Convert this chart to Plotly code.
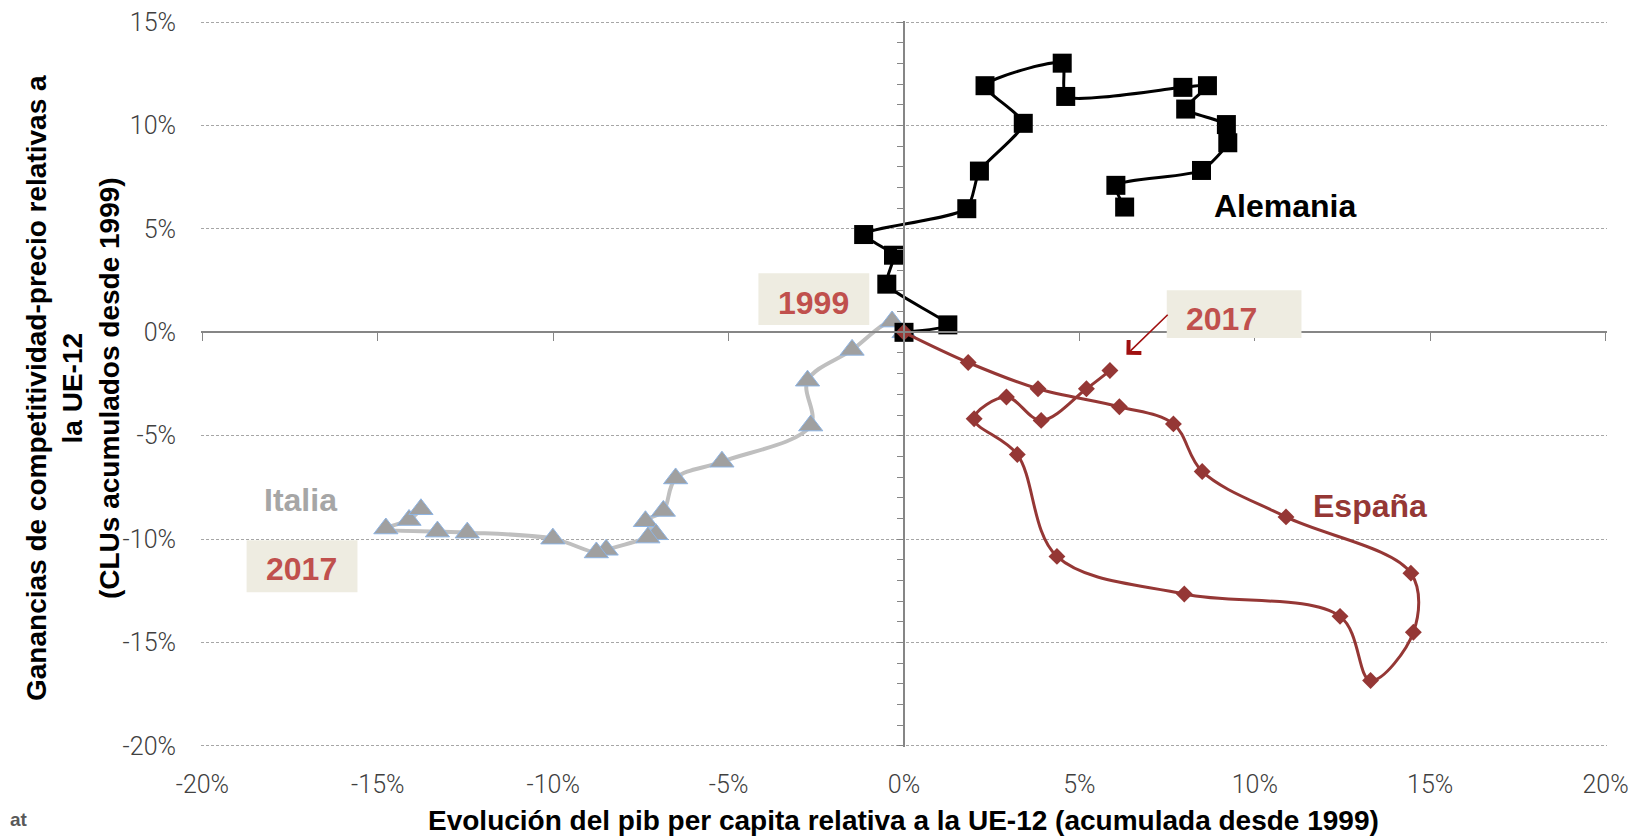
import plotly.graph_objects as go

# valores (en %), 1999 -> 2017
ale_x = [0.0, 1.25, -0.49, -0.30, -1.15, 1.79, 2.15, 3.40, 2.31, 4.51,
         4.61, 7.95, 8.65, 8.03, 9.19, 9.23, 8.48, 6.04, 6.29]
ale_y = [0.0, 0.36, 2.33, 3.73, 4.73, 5.98, 7.80, 10.11, 11.93, 13.02,
         11.41, 11.85, 11.93, 10.80, 10.05, 9.17, 7.83, 7.11, 6.06]

esp_x = [0.0, 1.83, 3.82, 6.14, 7.68, 8.50, 10.89, 14.45, 14.52, 13.30,
         12.43, 7.99, 4.36, 3.23, 2.00, 2.92, 3.91, 5.20, 5.87]
esp_y = [0.0, -1.46, -2.73, -3.60, -4.43, -6.73, -8.93, -11.65, -14.51, -16.84,
         -13.74, -12.66, -10.84, -5.91, -4.18, -3.13, -4.26, -2.73, -1.85]

ita_x = [0.0, -0.34, -1.48, -2.75, -2.66, -5.19, -6.51, -6.86, -7.37, -7.07,
         -7.30, -8.49, -8.77, -10.01, -12.45, -13.30, -14.77, -14.11, -13.77]
ita_y = [0.0, 0.52, -0.85, -2.34, -4.51, -6.26, -7.07, -8.64, -9.14, -9.77,
         -9.93, -10.52, -10.65, -9.98, -9.69, -9.64, -9.49, -9.08, -8.56]

x_ticks = [-20, -15, -10, -5, 0, 5, 10, 15, 20]
x_labels = ['-20%', '-15%', '-10%', '-5%', '0%', '5%', '10%', '15%', '20%']
y_ticks = [-20, -15, -10, -5, 0, 5, 10, 15]
y_labels = ['-20%', '-15%', '-10%', '-5%', '0%', '5%', '10%', '15%']

# rangos un pelín abiertos para que plotly dibuje la rejilla de los extremos
X_RANGE = [-20.04, 20.04]
Y_RANGE = [-20.06, 15.06]

ROJO = '#953735'
ROJO_TXT = '#c0504d'
BEIGE = '#eeece1'
GRIS_EJE = '#868686'
FUENTE = 'Liberation Sans, Arial, sans-serif'

fig = go.Figure()

fig.add_trace(go.Scatter(
    x=ita_x, y=ita_y, mode='lines+markers', name='Italia',
    line=dict(color='#bfbfbf', width=4, shape='spline'),
    marker=dict(symbol='triangle-up', size=21, color='#a0a0a0',
                line=dict(color='#8eb4e3', width=1)),
))
fig.add_trace(go.Scatter(
    x=ale_x, y=ale_y, mode='lines+markers', name='Alemania',
    xaxis='x2', yaxis='y2',
    line=dict(color='black', width=3, shape='spline', smoothing=0.6),
    marker=dict(symbol='square', size=19, color='black'),
))
fig.add_trace(go.Scatter(
    x=esp_x, y=esp_y, mode='lines+markers', name='España',
    xaxis='x2', yaxis='y2',
    line=dict(color=ROJO, width=3, shape='spline'),
    marker=dict(symbol='diamond', size=13, color=ROJO),
))

tick_font = dict(family='Roboto, sans-serif', size=25, color='#404040', weight=300)

# la página añade 8px de margen, se compensa aquí
fig.update_layout(
    width=1642, height=839,
    margin=dict(l=193, r=43, t=13, b=100),
    paper_bgcolor='white', plot_bgcolor='white',
    showlegend=False,
    xaxis=dict(range=X_RANGE, tickvals=x_ticks, ticktext=x_labels,
               showgrid=False, zeroline=False, showline=False, ticks='',
               tickfont=tick_font, ticklabelstandoff=20, automargin=False,
               ticklabeloverflow='allow'),
    yaxis=dict(range=Y_RANGE, tickvals=y_ticks, ticktext=y_labels,
               showgrid=True, gridcolor='#a6a6a6', gridwidth=1, griddash='3px,2px',
               zeroline=False, showline=False, ticks='',
               tickfont=tick_font, ticklabelstandoff=24, automargin=False,
               ticklabeloverflow='allow'),
    xaxis2=dict(overlaying='x', anchor='free', position=20.06 / 35.12, range=X_RANGE,
                showline=True, linecolor=GRIS_EJE, linewidth=1.5,
                ticks='outside', ticklen=8, tickcolor=GRIS_EJE, tickwidth=1.2,
                tickvals=x_ticks, showticklabels=False, showgrid=False,
                zeroline=False, automargin=False),
    yaxis2=dict(overlaying='y', anchor='free', position=0.5, range=Y_RANGE,
                showline=True, linecolor=GRIS_EJE, linewidth=1.5,
                ticks='outside', ticklen=6, tickcolor=GRIS_EJE, tickwidth=1.2,
                tick0=0, dtick=1, showticklabels=False, showgrid=False,
                zeroline=False, automargin=False),
)

# cajas de los años
for x0, x1, y0, y1 in [(-4.15, -0.99, 0.36, 2.86), (7.49, 11.33, -0.27, 2.03),
                       (-18.74, -15.58, -12.57, -10.06)]:
    fig.add_shape(type='rect', xref='x', yref='y', x0=x0, x1=x1, y0=y0, y1=y1,
                  fillcolor=BEIGE, line=dict(width=0), layer='above')

etiquetas = [
    ('Alemania', 10.86, 6.10, 'black'),
    ('España', 13.29, -8.38, ROJO),
    ('Italia', -17.19, -8.13, '#a6a6a6'),
    ('1999', -2.57, 1.44, ROJO_TXT),
    ('2017', 9.06, 0.65, ROJO_TXT),
    ('2017', -17.18, -11.45, ROJO_TXT),
]
for txt, x, y, col in etiquetas:
    fig.add_annotation(x=x, y=y, xref='x', yref='y', text='<b>%s</b>' % txt,
                       showarrow=False, xanchor='center', yanchor='middle',
                       font=dict(family=FUENTE, size=32, color=col))

# flecha 2017 España
fig.add_annotation(x=6.34, y=-1.09, ax=7.56, ay=0.92, xref='x', yref='y',
                   axref='x', ayref='y', text='', showarrow=True,
                   arrowhead=4, arrowsize=2.2, arrowwidth=1.6, arrowcolor='#a01010')

# títulos de ejes
fig.add_annotation(xref='paper', yref='paper', x=(65 - 193) / 1406, y=0.4945,
                   xanchor='center', yanchor='middle',
                   text='<b>Ganancias de competitividad-precio relativas a<br>'
                        'la UE-12<br>(CLUs acumulados desde 1999)</b>',
                   textangle=-90, showarrow=False,
                   font=dict(family=FUENTE, size=28, color='black'))
fig.add_annotation(xref='paper', yref='paper', x=0.4998, y=(739 - 812) / 726,
                   xanchor='center', yanchor='middle',
                   text='<b>Evolución del pib per capita relativa a la UE-12 '
                        '(acumulada desde 1999)</b>',
                   showarrow=False,
                   font=dict(family=FUENTE, size=28, color='black'))
fig.add_annotation(xref='paper', yref='paper', x=-193 / 1406, y=(739 - 811) / 726,
                   xanchor='left', yanchor='middle', text='<b>at</b>', showarrow=False,
                   font=dict(family=FUENTE, size=19, color='#595959'))

fig.write_html('out.html')
